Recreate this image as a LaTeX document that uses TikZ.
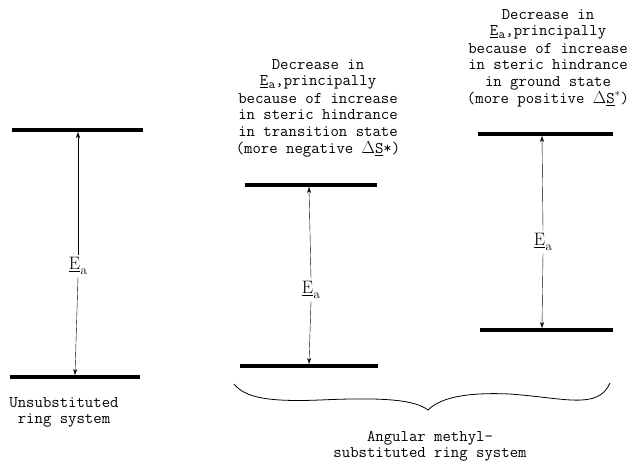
\documentclass[tikz,border=0pt]{standalone}
\usepackage{fontspec}
\setmonofont{Latin Modern Mono}
\usetikzlibrary{arrows.meta}
\newcommand{\EaSym}{\underline{E}\kern0.5pt\raisebox{-0.3em}{\fontsize{13}{13}\selectfont a}}
\newcommand{\EaTxt}{\underline{E}\kern0.5pt\raisebox{-0.15em}{\fontsize{13}{13}\selectfont a}}
\begin{document}
\begin{tikzpicture}[x=1pt,y=-1pt,
  level/.style={line width=3.5pt},
  gap/.style={thin,-{Stealth[length=6pt,width=4pt]}},
  ealab/.style={font=\fontsize{18}{18}\selectfont, inner sep=2pt},
  note/.style={font=\ttfamily\fontsize{16.3}{16.6}\selectfont, align=center, inner sep=0pt}]
\useasboundingbox (0,0) rectangle (639,469);
% levels
\coordinate (L1) at (12,130); \coordinate (R1) at (143,130);
\coordinate (L2) at (10,377); \coordinate (R2) at (140,377);
\coordinate (L3) at (245,185); \coordinate (R3) at (377,185);
\coordinate (L4) at (240,366); \coordinate (R4) at (378,366);
\coordinate (L5) at (478,134); \coordinate (R5) at (613,134);
\coordinate (L6) at (480,330); \coordinate (R6) at (613,330);
\draw[level] (L1) -- (R1);
\draw[level] (L2) -- (R2);
\draw[level] (L3) -- (R3);
\draw[level] (L4) -- (R4);
\draw[level] (L5) -- (R5);
\draw[level] (L6) -- (R6);
% arrow end points
\coordinate (a1t) at (78,132); \coordinate (a1b) at (75,375);
\coordinate (a2t) at (309,187); \coordinate (a2b) at (309,364);
\coordinate (a3t) at (542,136); \coordinate (a3b) at (542,328);
\node[ealab] (ea1) at (78,266) {\EaSym};
\node[ealab] (ea2) at (311,290) {\EaSym};
\node[ealab] (ea3) at (543,242) {\EaSym};
\draw[gap] (ea1.north) -- (a1t);
\draw[gap] (ea1.south) -- (a1b);
\draw[gap] (ea2.north) -- (a2t);
\draw[gap] (ea2.south) -- (a2b);
\draw[gap] (ea3.north) -- (a3t);
\draw[gap] (ea3.south) -- (a3b);
% texts
\node[note, anchor=north] (t2) at (318,59) {Decrease in\\
\EaTxt,principally\\[1pt]
because of increase\\
in steric hindrance\\
in transition state\\
(more negative $\Delta$\underline{S}*)};
\node[note, anchor=north] (t3) at (548,9) {Decrease in\\
\EaTxt,principally\\[1pt]
because of increase\\
in steric hindrance\\
in ground state\\
(more positive $\Delta$\underline{S}$^*$)};
\node[note, anchor=north] (t1) at (64,397) {Unsubstituted\\ ring system};
\node[note, anchor=north] (t4) at (430,431) {Angular methyl-\\ substituted ring system};
% brace
\coordinate (bl) at (234,384);
\coordinate (bt) at (428,410);
\coordinate (br) at (610,383);
\draw[line width=0.8pt] (bl) .. controls (245,398) and (270,402) .. (320,400)
  .. controls (385,397) and (415,400) .. (bt)
  .. controls (440,398) and (465,392) .. (510,394)
  .. controls (565,398) and (598,410) .. (br);
\end{tikzpicture}
\end{document}
